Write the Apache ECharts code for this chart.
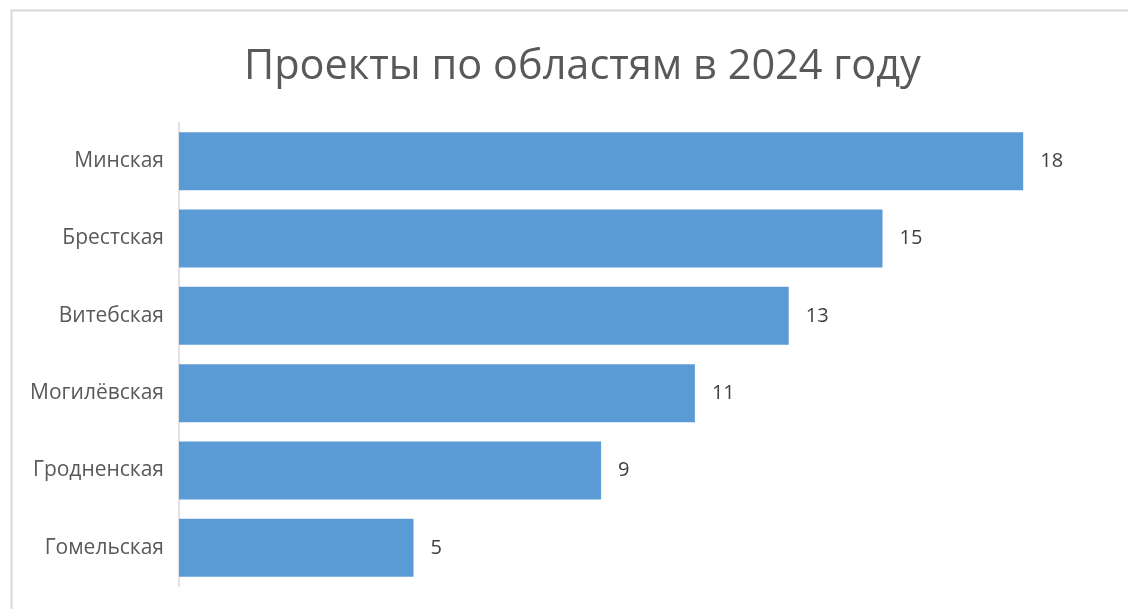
<!DOCTYPE html>
<html><head><meta charset="utf-8">
<script src="https://cdn.jsdelivr.net/npm/echarts@6/dist/echarts.min.js"></script>
<style>html,body{margin:0;padding:0;background:#fff}#c{width:1128px;height:609px}</style>
</head><body><div id="c"></div>
<script>
const titleText = 'Проекты по областям в 2024 году';
const categories = ['Минская','Брестская','Витебская','Могилёвская','Гродненская','Гомельская'];
const values = [18,15,13,11,9,5];

const chart = echarts.init(document.getElementById('c'));
chart.setOption({
  backgroundColor:'#fff',
  animation:false,
  graphic:[{type:'rect',shape:{x:11.5,y:10.5,width:1130,height:620},style:{fill:'none',stroke:'#d9d9d9',lineWidth:2}}],
  title:{text:titleText,left:239,top:41,textStyle:{fontFamily:'Open Sans',fontSize:41.5,fontWeight:'normal',color:'#595959'}},
  grid:{left:179,top:122.5,width:938,height:464,containLabel:false},
  xAxis:{type:'value',min:0,max:20,show:false},
  yAxis:{type:'category',data:categories,inverse:true,
    axisLine:{show:true,lineStyle:{color:'#d9d9d9',width:1.5}},axisTick:{show:false},
    axisLabel:{margin:15,fontFamily:'Open Sans',fontSize:21,color:'#595959',padding:[3,0,0,0]}},
  series:[{type:'bar',data:values,barCategoryGap:'25%',
    itemStyle:{color:'#5b9bd5'},
    label:{show:true,position:'right',distance:17,fontFamily:'Open Sans',fontSize:20,color:'#404040',padding:[3,0,0,0]}}]
});
</script></body></html>
